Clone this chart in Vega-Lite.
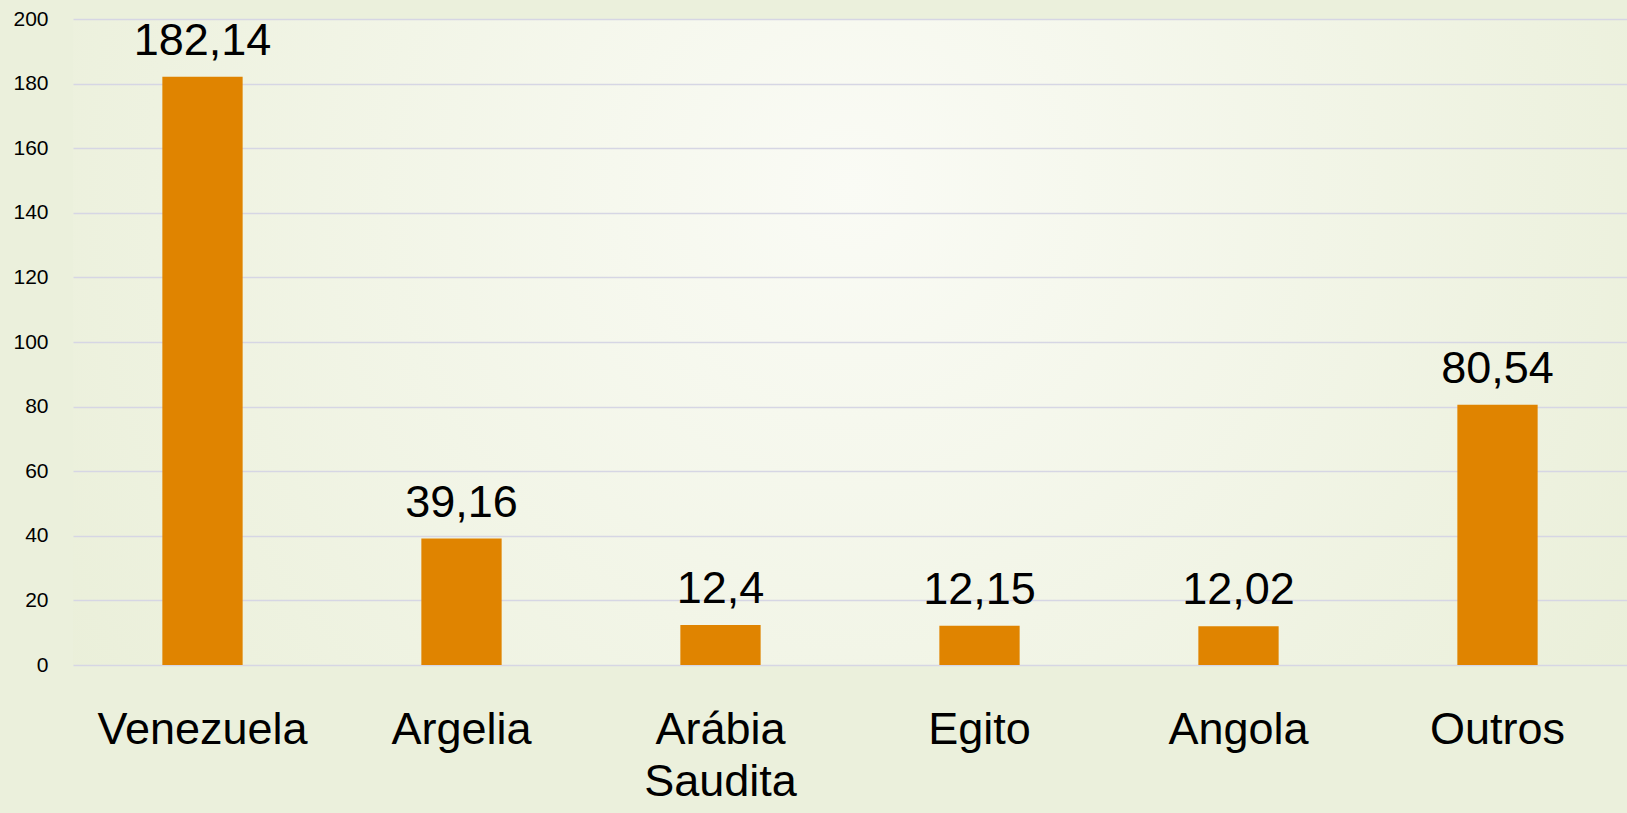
{
  "$schema": "https://vega.github.io/schema/vega-lite/v6.json",
  "autosize": {"type": "none"},
  "width": 1554,
  "height": 646,
  "padding": {"left": 73, "top": 19, "right": 0, "bottom": 148},
  "background": "#ebf0dc",
  "config": {
    "view": {"stroke": null, "fill": {"gradient": "radial", "x1": 0.5, "y1": 0.4, "r1": 0, "x2": 0.5, "y2": 0.4, "r2": 0.75, "stops": [{"offset": 0, "color": "#fafbf5"}, {"offset": 1, "color": "#e6ecd2"}]}},
    "font": "Liberation Sans"
  },
  "data": {
    "values": [
      {"pais": "Venezuela", "valor": 182.14, "rotulo": "182,14"},
      {"pais": "Argelia", "valor": 39.16, "rotulo": "39,16"},
      {"pais": "Arábia Saudita", "valor": 12.4, "rotulo": "12,4"},
      {"pais": "Egito", "valor": 12.15, "rotulo": "12,15"},
      {"pais": "Angola", "valor": 12.02, "rotulo": "12,02"},
      {"pais": "Outros", "valor": 80.54, "rotulo": "80,54"}
    ]
  },
  "encoding": {
    "x": {
      "field": "pais", "type": "nominal", "sort": null,
      "scale": {"paddingInner": 0.69, "paddingOuter": 0.345},
      "axis": {
        "title": null, "domain": false, "ticks": false, "labelAngle": 0,
        "labelFont": "Liberation Sans", "labelFontSize": 45, "labelColor": "#000000",
        "labelPadding": 42, "labelBaseline": "top", "labelLineHeight": 52, "labelLimit": 0,
        "labelExpr": "datum.label == 'Arábia Saudita' ? ['Arábia', 'Saudita'] : datum.label"
      }
    },
    "y": {
      "field": "valor", "type": "quantitative",
      "scale": {"domain": [0, 200], "nice": false},
      "axis": {
        "title": null, "domain": false, "ticks": false, "values": [0, 20, 40, 60, 80, 100, 120, 140, 160, 180, 200],
        "labelFontSize": 21, "labelColor": "#000000", "labelPadding": 25,
        "gridColor": "#d6d6e4", "gridWidth": 1.3
      }
    }
  },
  "layer": [
    {"mark": {"type": "bar", "color": "#E08400"}},
    {
      "mark": {"type": "text", "font": "Liberation Sans", "fontSize": 45, "color": "#000000", "baseline": "alphabetic", "dy": -22},
      "encoding": {"text": {"field": "rotulo"}}
    }
  ]
}
